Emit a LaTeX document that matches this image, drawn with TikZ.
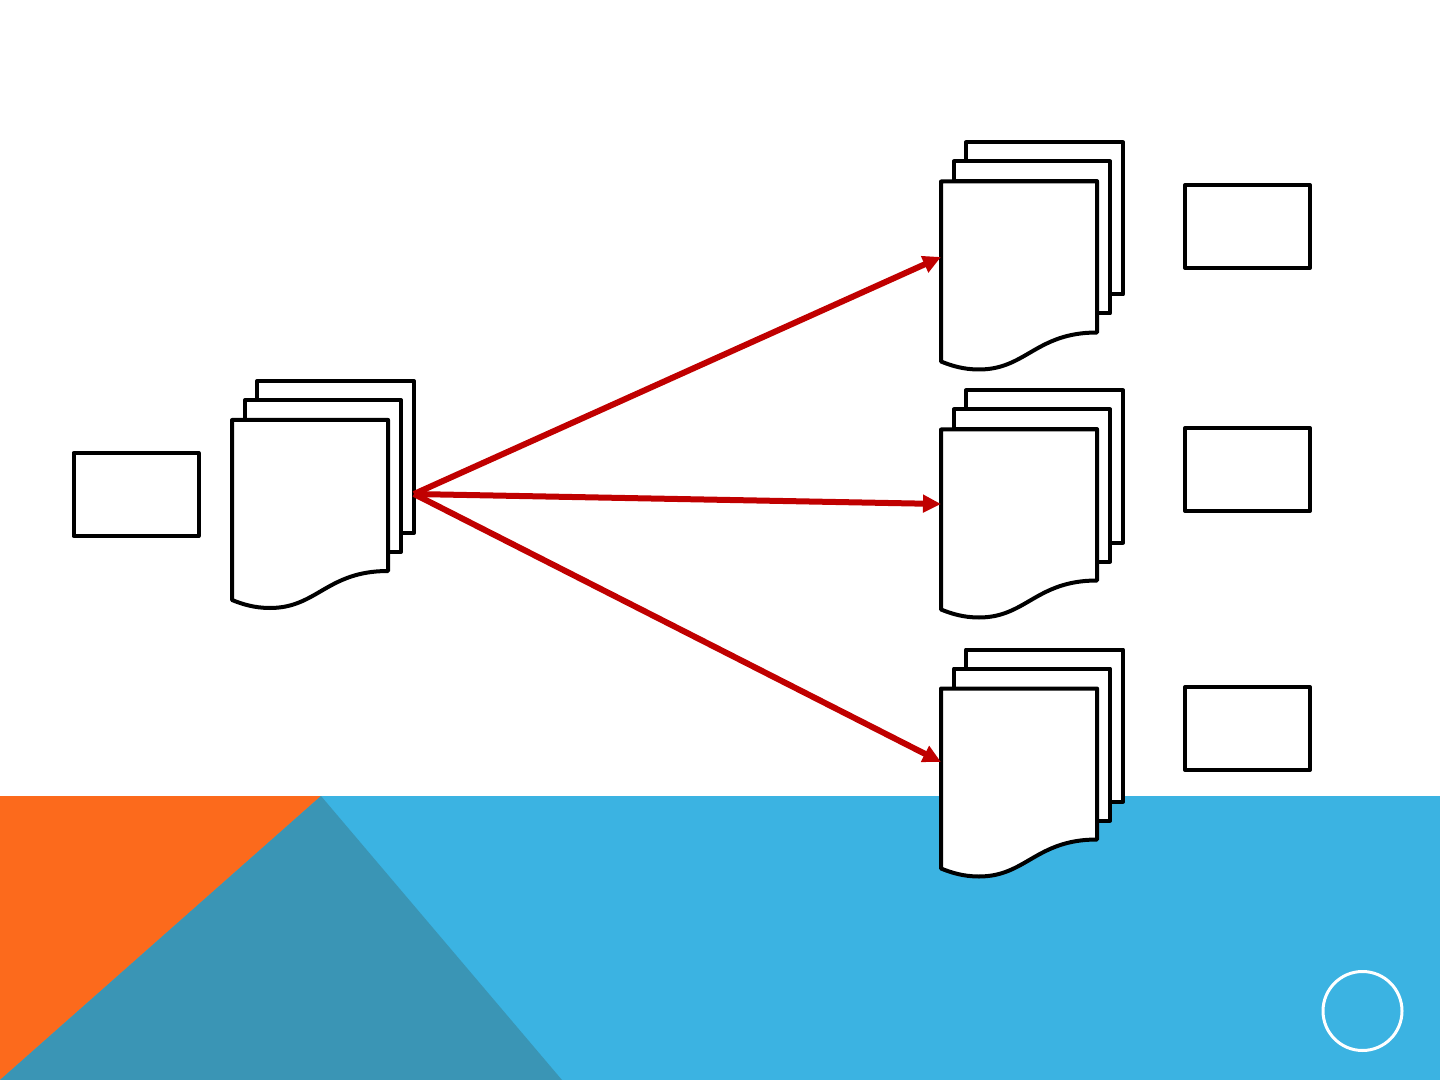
\documentclass[tikz,border=0pt]{standalone}
\usepackage{tikz}
\usetikzlibrary{arrows.meta, positioning}
\definecolor{bandblue}{HTML}{3BB3E2}
\definecolor{bandorange}{HTML}{FC6A1C}
\definecolor{bandteal}{HTML}{3A95B5}
\definecolor{flowred}{HTML}{C00000}

\begin{document}
\begin{tikzpicture}[x=0.5pt, y=-0.5pt,
    sheet/.style={draw=black, fill=white, line width=2pt, line join=round},
    tagbox/.style={draw=black, line width=2pt, line join=round, outer sep=0pt, inner sep=0pt, minimum width=62.5pt, minimum height=41.5pt},
    flow/.style={draw=flowred, line width=3pt, -{Triangle[length=9pt, width=8.5pt]}},
    docstack/.pic={
        \path[sheet] (25,-39) -- (182,-39) -- (182,113) -- (169,113) -- (169,-19) -- (25,-19) -- cycle;
        \path[sheet] (13,-20) -- (169,-20) -- (169,132) -- (156,132) -- (156,0) -- (13,0) -- cycle;
        \path[sheet] (0,0) -- (156,0) -- (156,151) .. controls (95,151) and (85,188) .. (38,188) .. controls (22,188) and (10,184) .. (0,180) -- cycle;
    }]
    \useasboundingbox (0,0) rectangle (1440,1080);
    % background band
    \fill[bandblue] (0,796) rectangle (1440,1080);
    \fill[bandorange] (0,796) -- (321,796) -- (0,1080) -- cycle;
    \fill[bandteal] (0,1080) -- (321,796) -- (562,1080) -- cycle;
    \node[circle, draw=white, line width=1.5pt, minimum size=39.5pt, inner sep=0pt] (pagenum) at (1362.5,1011) {};
    % stacks
    \pic at (232,420) {docstack};
    \pic at (941,181.5) {docstack};
    \pic at (941,429.5) {docstack};
    \pic at (941,688.5) {docstack};
    % boxes
    \node[tagbox] (src) at (136,494.5) {};
    \node[tagbox] (dsta) at (1247.5,226.5) {};
    \node[tagbox] (dstb) at (1247.5,469.5) {};
    \node[tagbox] (dstc) at (1247.5,728.5) {};
    % arrows
    \coordinate (out) at (414,494);
    \coordinate (ina) at (941,257);
    \coordinate (inb) at (941,504);
    \coordinate (inc) at (941,762);
    \draw[flow] (out) -- (ina);
    \draw[flow] (out) -- (inb);
    \draw[flow] (out) -- (inc);
\end{tikzpicture}
\end{document}
